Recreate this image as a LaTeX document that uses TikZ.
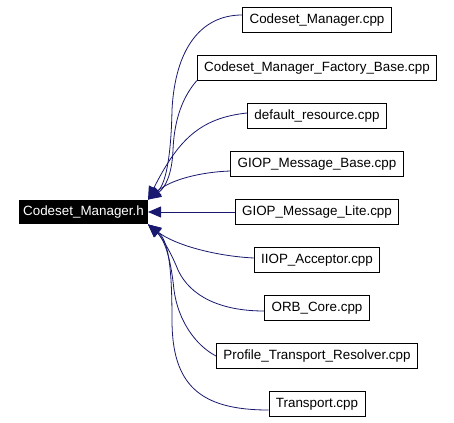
\documentclass[tikz,border=0pt]{standalone}
\usepackage{fontspec}
\setmainfont{Liberation Sans}
\usetikzlibrary{arrows.meta}
\definecolor{edgeblue}{HTML}{191970}

\begin{document}
\begin{tikzpicture}[
    x=1pt, y=-1pt,
    file/.style={rectangle, draw, fill=white, line width=0.8pt, inner xsep=7pt, inner ysep=0pt, minimum height=24.5pt, text height=10pt, text depth=3pt, font=\fontsize{13.4}{16}\selectfont},
    rootfile/.style={rectangle, fill=black, text=white, inner xsep=4pt, inner ysep=0pt, minimum height=24.5pt, text height=10pt, text depth=3pt, font=\fontsize{13.4}{16}\selectfont},
    dep/.style={->, draw=edgeblue, line width=0.8pt, >={Triangle[length=13pt, width=11pt]}}
]
\fill[white] (0,0) rectangle (454,422);

% Header
\node[rootfile] (root) at (83.5,212) {Codeset\_Manager.h};

% File che includono l'header
\node[file] (cm) at (317,20) {Codeset\_Manager.cpp};
\node[file] (cmfb) at (317,68) {Codeset\_Manager\_Factory\_Base.cpp};
\node[file] (dr) at (317,116) {default\_resource.cpp};
\node[file] (gmb) at (317,164) {GIOP\_Message\_Base.cpp};
\node[file] (gml) at (317,212) {GIOP\_Message\_Lite.cpp};
\node[file] (iia) at (317,260) {IIOP\_Acceptor.cpp};
\node[file] (orb) at (317,308) {ORB\_Core.cpp};
\node[file] (ptr) at (317,356) {Profile\_Transport\_Resolver.cpp};
\node[file] (tr) at (317,404) {Transport.cpp};

% Dipendenze
\draw[dep] ([yshift=5pt]cm.west) .. controls (200,15) and (175,50) .. (172,110) .. controls (171,160) and (165,185) .. (root.north east);
\draw[dep] (cmfb.south west) .. controls (180,100) and (174,125) .. (173,150) .. controls (172,175) and (165,188) .. (root.north east);
\draw[dep] ([yshift=3pt]dr.west) .. controls (200,118) and (178,140) .. (root.north east);
\draw[dep] ([yshift=-7pt]gmb.west) .. controls (200,172) and (170,180) .. (root.north east);
\draw[dep] (gml.west) -- (root.east);
\draw[dep] ([yshift=2pt]iia.west) .. controls (215,256) and (175,245) .. (root.south east);
\draw[dep] ([yshift=-3pt]orb.west) .. controls (220,311) and (190,296) .. (178,270) .. controls (170,250) and (160,235) .. (root.south east);
\draw[dep] (ptr.west) .. controls (195,345) and (178,320) .. (174,290) .. controls (171,260) and (165,240) .. (root.south east);
\draw[dep] ([yshift=-6pt]tr.west) .. controls (200,410) and (172,385) .. (172,320) .. controls (172,265) and (168,240) .. (root.south east);
\end{tikzpicture}
\end{document}
